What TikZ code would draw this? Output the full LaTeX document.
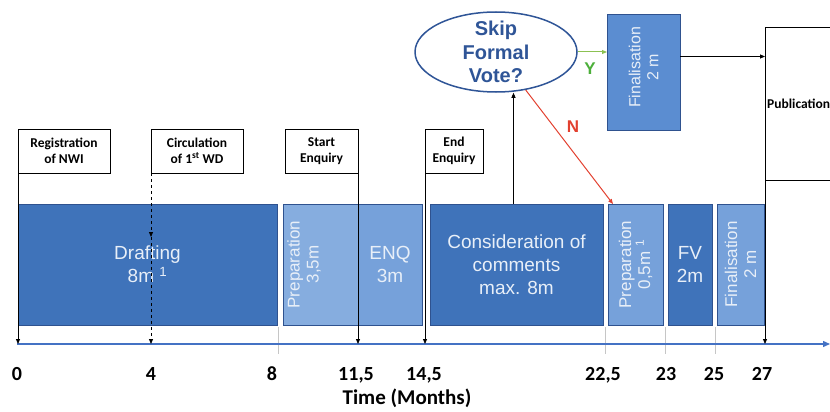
\documentclass[tikz,border=0pt]{standalone}
\usepackage{fontspec}
\usepackage{tikz}
\usetikzlibrary{arrows.meta, shapes.geometric, positioning}
\newfontfamily\arialfont{Liberation Sans}
\newfontfamily\calfont{Carlito}
\definecolor{colorDark}{HTML}{3F73BA}
\definecolor{colorLight}{HTML}{76A1DA}
\definecolor{colorPale}{HTML}{86ADDF}
\definecolor{colorMid}{HTML}{5B8DD1}
\definecolor{colorEdge}{HTML}{2F528F}
\definecolor{colorAxis}{HTML}{4472C4}
\definecolor{colorText}{HTML}{2F5597}
\definecolor{colorPhaseText}{HTML}{E8EFF8}
\definecolor{colorYes}{HTML}{8CC152}
\definecolor{colorYesText}{HTML}{4CAF3A}
\definecolor{colorNo}{HTML}{E2402F}

\begin{document}
\begin{tikzpicture}[x=1pt, y=-1pt,
    phase/.style={draw=colorEdge, line width=1pt, fill=colorDark, anchor=north west, inner sep=0pt, outer sep=0pt, minimum height=121pt, text=colorPhaseText, align=center, font=\arialfont\fontsize{19}{23}\selectfont},
    vphase/.style={rotate=90, text=colorPhaseText, align=center, inner sep=0pt, font=\arialfont\fontsize{17}{19}\selectfont},
    event/.style={draw, line width=0.8pt, fill=white, anchor=north west, inner sep=0pt, outer sep=0pt, minimum height=44pt, align=center, font=\calfont\bfseries\fontsize{13.5}{16.5}\selectfont},
    tick/.style={anchor=base, font=\calfont\bfseries\fontsize{20}{24}\selectfont},
    link/.style={line width=0.8pt, -{Triangle[length=5pt,width=4pt]}}]
        \useasboundingbox (0,0) rectangle (830,412);
        \clip (0,0) rectangle (830,412);
        \node[phase, minimum width=259pt] (draft) at (18,204) {Drafting\\8m \textsuperscript{1}};
        \node[phase, fill=colorPale, draw=none, minimum width=75pt] (prep) at (283,204) {};
        \node[phase, fill=colorLight, draw=none, minimum width=64pt] (enq) at (prep.north east) {ENQ\\3m};
        \draw[colorEdge, line width=1pt] (prep.north west) rectangle (enq.south east);
        \node[vphase] (preplbl) at ([xshift=21pt]prep.west) {Preparation\\3,5m};
        \node[phase, minimum width=173pt] (consid) at (430,204) {Consideration of\\comments\\max. 8m};
        \node[phase, fill=colorLight, minimum width=55pt] (prepvote) at (608,204) {};
        \node[vphase] (prepvotelbl) at (prepvote.center) {Preparation\\0,5m \textsuperscript{1}};
        \node[phase, minimum width=44pt] (fv) at (668,204) {FV\\2m};
        \node[phase, fill=colorLight, minimum width=47pt] (final) at (717,204) {};
        \node[vphase] (finallbl) at (final.center) {Finalisation\\2 m};
        \node[phase, fill=colorMid, minimum width=73pt, minimum height=115pt] (finaltop) at (607,15) {};
        \node[vphase, font=\arialfont\fontsize{16}{18}\selectfont] (finaltoplbl) at ([yshift=5pt]finaltop.center) {Finalisation\\2 m};
        \node[ellipse, draw=colorText, line width=1.5pt, minimum width=162pt, minimum height=80pt] (skip) at (496,52) {};
        \node[text=colorText, align=center, font=\arialfont\bfseries\fontsize{20}{23.5}\selectfont] (skiplbl) at (skip.center) {Skip\\Formal\\Vote?};
        \node[event, minimum width=92pt] (reg) at (18,129) {Registration\\of NWI};
        \node[event, minimum width=92pt] (circ) at (151,129) {Circulation\\of 1\textsuperscript{st} WD};
        \node[event, minimum width=73pt] (start) at (285,129) {Start\\Enquiry};
        \node[event, minimum width=58pt] (endenq) at (425,129) {End\\Enquiry};
        \node[event, minimum width=120pt, minimum height=153pt] (pub) at (765,27) {};
        \node[anchor=west, inner sep=0pt, font=\calfont\bfseries\fontsize{13.5}{16}\selectfont] (publbl) at (767,104) {Publication};
        \coordinate (axl) at (17,344);
        \coordinate (axr) at (830,344);
        \coordinate (t0) at (18,344);
        \coordinate (c4) at (151,237);
        \coordinate (t4) at (151,344);
        \coordinate (t115) at (358,344);
        \coordinate (t145) at (425,344);
        \coordinate (t27) at (765,344);
        \foreach \x in {278,605,665,715}
            \draw[gray!45, line width=0.8pt] (\x,327) -- (\x,354);
        \draw[colorAxis, line width=1.3pt, -{Triangle[length=7pt,width=6pt]}] (axl) -- (axr);
        \draw[link] (reg.south west) -- (t0);
        \draw[link, dashed] (circ.south west) -- (c4);
        \draw[link, dashed] (c4) -- (t4);
        \draw[link] (start.south east) -- (t115);
        \draw[link] (endenq.south west) -- (t145);
        \draw[link] (pub.south west) -- (t27);
        \coordinate (cup) at ([xshift=-3pt]consid.north);
        \draw[link] (cup) -- (cup |- skip.south);
        \draw[colorYes, line width=1pt, -{Triangle[length=5pt,width=4pt]}] (skip.east) -- (skip.east -| finaltop.west);
        \node[text=colorYesText, font=\arialfont\bfseries\fontsize{17}{19}\selectfont] (ylbl) at (590,69) {Y};
        \draw[colorNo, line width=1pt, -{Triangle[length=5pt,width=4pt]}] (skip.-52) -- ([xshift=5pt]prepvote.north west);
        \node[text=colorNo, font=\arialfont\bfseries\fontsize{17}{19}\selectfont] (nlbl) at (573,127) {N};
        \coordinate (fout) at ([yshift=16pt]finaltop.east);
        \draw[link] (fout) -- (fout -| pub.west);
        \foreach \x/\t in {17/0, 151/4, 272/8, 356/{11,5}, 424/{14,5}, 603/{22,5}, 666/23, 714/25, 762/27}
            \node[tick] (tick\x) at (\x,380) {\t};
        \node[anchor=base, font=\calfont\bfseries\fontsize{21}{24}\selectfont] (timelbl) at (407,404) {Time (Months)};
    \end{tikzpicture}
\end{document}
